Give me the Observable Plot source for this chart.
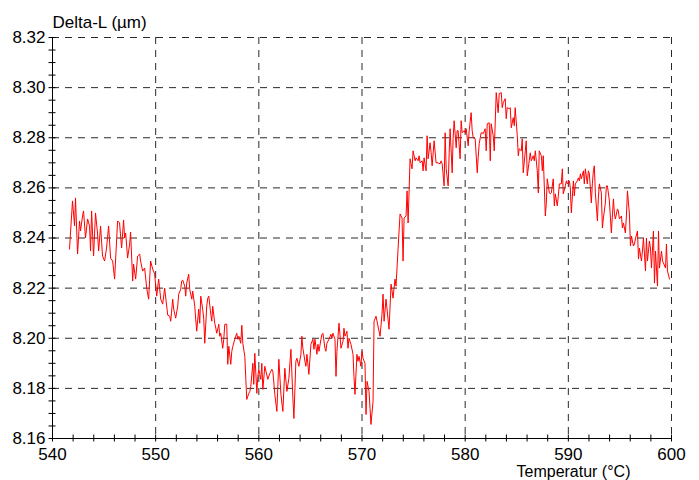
<!DOCTYPE html>
<html>
<head>
<meta charset="utf-8">
<script src="https://cdn.jsdelivr.net/npm/d3@7"></script>
<script src="https://cdn.jsdelivr.net/npm/@observablehq/plot@0.6"></script>
<style>
  html, body { margin: 0; padding: 0; background: #fff; }
  #chart svg { display: block; }
</style>
</head>
<body>
<div id="chart"></div>
<script>
const yTitle = "Delta-L (µm)";
const xTitle = "Temperatur (°C)";
const xTicks = [540, 550, 560, 570, 580, 590, 600];
const yTicks = [8.16, 8.18, 8.20, 8.22, 8.24, 8.26, 8.28, 8.30, 8.32];

const temperature = [
  541.65, 541.94, 542.14, 542.23, 542.43, 542.62, 542.72, 542.91, 543.01, 543.20,
  543.40, 543.59, 543.69, 543.79, 543.98, 544.17, 544.37, 544.47, 544.66, 544.85,
  545.05, 545.24, 545.44, 545.63, 545.83, 546.02, 546.31, 546.50, 546.60, 546.70,
  546.89, 546.99, 547.09, 547.28, 547.48, 547.57, 547.77, 547.86, 548.06, 548.25,
  548.45, 548.54, 548.74, 548.93, 549.13, 549.32, 549.51, 549.71, 549.90, 550.10,
  550.29, 550.49, 550.68, 550.87, 551.17, 551.36, 551.46, 551.65, 551.75, 551.94,
  552.14, 552.23, 552.43, 552.52, 552.62, 552.82, 552.91, 553.01, 553.20, 553.30,
  553.50, 553.59, 553.79, 553.88, 553.98, 554.17, 554.27, 554.37, 554.56, 554.66,
  554.76, 554.95, 555.05, 555.15, 555.34, 555.44, 555.53, 555.73, 555.83, 555.92,
  556.12, 556.21, 556.31, 556.50, 556.60, 556.70, 556.89, 556.99, 557.09, 557.28,
  557.38, 557.48, 557.67, 557.86, 557.96, 558.06, 558.25, 558.35, 558.45, 558.64,
  558.74, 558.83, 559.03, 559.13, 559.22, 559.42, 559.51, 559.61, 559.81, 559.90,
  560.00, 560.19, 560.29, 560.39, 560.58, 560.87, 561.07, 561.26, 561.36, 561.55,
  561.75, 561.94, 562.14, 562.33, 562.52, 562.72, 562.91, 563.11, 563.30, 563.40,
  563.59, 563.69, 563.88, 564.08, 564.17, 564.27, 564.47, 564.56, 564.66, 564.85,
  565.05, 565.24, 565.34, 565.44, 565.63, 565.73, 565.83, 566.02, 566.12, 566.21,
  566.41, 566.50, 566.60, 566.80, 566.99, 567.09, 567.18, 567.38, 567.48, 567.57,
  567.77, 567.86, 567.96, 568.16, 568.25, 568.35, 568.54, 568.64, 568.74, 568.93,
  569.13, 569.22, 569.32, 569.51, 569.61, 569.71, 569.90, 570.00, 570.10, 570.29,
  570.39, 570.49, 570.68, 570.78, 570.87, 571.07, 571.17, 571.36, 571.75, 571.94,
  572.04, 572.14, 572.33, 572.62, 572.82, 573.01, 573.20, 573.30, 573.50, 573.69,
  573.88, 573.98, 574.08, 574.27, 574.37, 574.47, 574.66, 574.85, 574.95, 575.15,
  575.24, 575.44, 575.53, 575.63, 575.83, 575.92, 576.02, 576.21, 576.31, 576.41,
  576.60, 576.70, 576.80, 576.99, 577.18, 577.38, 577.57, 577.67, 577.77, 577.96,
  578.06, 578.16, 578.35, 578.45, 578.54, 578.74, 578.83, 578.93, 579.13, 579.22,
  579.32, 579.51, 579.61, 579.71, 579.90, 580.00, 580.10, 580.29, 580.39, 580.58,
  580.68, 580.78, 580.97, 581.17, 581.26, 581.36, 581.55, 581.65, 581.75, 581.94,
  582.04, 582.14, 582.33, 582.43, 582.52, 582.72, 582.82, 583.01, 583.20, 583.30,
  583.50, 583.59, 583.69, 583.88, 583.98, 584.08, 584.27, 584.37, 584.47, 584.66,
  584.76, 584.85, 585.05, 585.15, 585.24, 585.44, 585.53, 585.63, 585.83, 585.92,
  586.02, 586.21, 586.31, 586.41, 586.60, 586.70, 586.80, 586.99, 587.09, 587.18,
  587.38, 587.48, 587.57, 587.77, 587.86, 587.96, 588.16, 588.25, 588.35, 588.54,
  588.64, 588.74, 588.93, 589.03, 589.13, 589.32, 589.42, 589.51, 589.71, 589.81,
  589.90, 590.10, 590.19, 590.29, 590.49, 590.58, 590.68, 590.87, 590.97, 591.07,
  591.17, 591.26, 591.46, 591.55, 591.65, 591.84, 591.94, 592.04, 592.23, 592.33,
  592.43, 592.52, 592.62, 592.82, 592.91, 593.01, 593.20, 593.30, 593.40, 593.59,
  593.69, 593.79, 593.98, 594.08, 594.17, 594.37, 594.47, 594.56, 594.76, 594.85,
  594.95, 595.15, 595.24, 595.34, 595.53, 595.63, 595.73, 595.92, 596.02, 596.12,
  596.31, 596.41, 596.50, 596.70, 596.80, 596.89, 597.09, 597.18, 597.28, 597.48,
  597.57, 597.67, 597.86, 597.96, 598.06, 598.25, 598.35, 598.45, 598.64, 598.74,
  598.83, 599.03, 599.13, 599.22, 599.42, 599.51, 599.61, 599.81
];

const deltaL = [
  8.2356, 8.2548, 8.2448, 8.2560, 8.2336, 8.2468, 8.2428, 8.2488, 8.2508, 8.2400,
  8.2476, 8.2448, 8.2348, 8.2508, 8.2328, 8.2500, 8.2416, 8.2348, 8.2448, 8.2328,
  8.2308, 8.2360, 8.2448, 8.2320, 8.2308, 8.2236, 8.2468, 8.2460, 8.2408, 8.2360,
  8.2472, 8.2400, 8.2420, 8.2320, 8.2376, 8.2424, 8.2228, 8.2296, 8.2236, 8.2328,
  8.2336, 8.2308, 8.2268, 8.2280, 8.2200, 8.2156, 8.2308, 8.2276, 8.2256, 8.2168,
  8.2236, 8.2156, 8.2136, 8.2200, 8.2092, 8.2088, 8.2068, 8.2156, 8.2116, 8.2080,
  8.2128, 8.2176, 8.2196, 8.2228, 8.2232, 8.2208, 8.2168, 8.2220, 8.2256, 8.2196,
  8.2156, 8.2188, 8.2128, 8.2076, 8.2028, 8.2116, 8.2060, 8.2168, 8.2116, 8.2076,
  8.1980, 8.2128, 8.2160, 8.2168, 8.2096, 8.2068, 8.2128, 8.2060, 8.2040, 8.2020,
  8.2056, 8.2008, 8.2020, 8.1960, 8.1996, 8.2056, 8.2056, 8.1896, 8.1968, 8.1896,
  8.1948, 8.1968, 8.1996, 8.2020, 8.1996, 8.2008, 8.1980, 8.2052, 8.1980, 8.1928,
  8.1836, 8.1756, 8.1780, 8.1788, 8.1808, 8.1900, 8.1816, 8.1940, 8.1780, 8.1848,
  8.1876, 8.1836, 8.1900, 8.1796, 8.1888, 8.1836, 8.1860, 8.1876, 8.1868, 8.1776,
  8.1708, 8.1916, 8.1776, 8.1708, 8.1880, 8.1788, 8.1840, 8.1956, 8.1760, 8.1680,
  8.1908, 8.1920, 8.1888, 8.1936, 8.2008, 8.1960, 8.1908, 8.1888, 8.1936, 8.1856,
  8.1976, 8.1996, 8.1956, 8.1996, 8.1936, 8.1976, 8.1948, 8.1996, 8.2016, 8.2020,
  8.1960, 8.1948, 8.1980, 8.1996, 8.2016, 8.2000, 8.2020, 8.1996, 8.1848, 8.1948,
  8.2060, 8.2016, 8.1960, 8.1988, 8.2040, 8.2008, 8.2028, 8.1960, 8.2000, 8.1976,
  8.1936, 8.1848, 8.1776, 8.1936, 8.1908, 8.1928, 8.1888, 8.1948, 8.1920, 8.1900,
  8.1696, 8.1828, 8.1788, 8.1720, 8.1656, 8.1748, 8.2068, 8.2088, 8.2008, 8.2096,
  8.2176, 8.2068, 8.2156, 8.2036, 8.2216, 8.2160, 8.2236, 8.2208, 8.2360, 8.2496,
  8.2480, 8.2308, 8.2480, 8.2488, 8.2588, 8.2460, 8.2716, 8.2676, 8.2748, 8.2708,
  8.2720, 8.2708, 8.2728, 8.2700, 8.2708, 8.2668, 8.2720, 8.2668, 8.2808, 8.2716,
  8.2780, 8.2740, 8.2688, 8.2788, 8.2700, 8.2700, 8.2696, 8.2708, 8.2696, 8.2608,
  8.2820, 8.2676, 8.2608, 8.2740, 8.2836, 8.2660, 8.2796, 8.2868, 8.2760, 8.2828,
  8.2828, 8.2716, 8.2868, 8.2820, 8.2828, 8.2820, 8.2836, 8.2768, 8.2828, 8.2900,
  8.2828, 8.2800, 8.2796, 8.2660, 8.2720, 8.2776, 8.2820, 8.2820, 8.2816, 8.2836,
  8.2748, 8.2856, 8.2860, 8.2708, 8.2856, 8.2808, 8.2748, 8.2980, 8.2900, 8.2976,
  8.2980, 8.2920, 8.2940, 8.2956, 8.2876, 8.2920, 8.2916, 8.2920, 8.2840, 8.2880,
  8.2848, 8.2920, 8.2808, 8.2728, 8.2756, 8.2748, 8.2796, 8.2660, 8.2748, 8.2788,
  8.2648, 8.2708, 8.2740, 8.2708, 8.2728, 8.2708, 8.2748, 8.2668, 8.2580, 8.2748,
  8.2728, 8.2668, 8.2728, 8.2488, 8.2536, 8.2636, 8.2580, 8.2576, 8.2580, 8.2636,
  8.2528, 8.2576, 8.2528, 8.2568, 8.2616, 8.2616, 8.2676, 8.2576, 8.2608, 8.2628,
  8.2616, 8.2628, 8.2600, 8.2500, 8.2628, 8.2568, 8.2616, 8.2628, 8.2640, 8.2628,
  8.2656, 8.2636, 8.2668, 8.2616, 8.2676, 8.2616, 8.2668, 8.2656, 8.2540, 8.2616,
  8.2668, 8.2688, 8.2580, 8.2468, 8.2560, 8.2616, 8.2580, 8.2440, 8.2480, 8.2540,
  8.2608, 8.2608, 8.2548, 8.2480, 8.2420, 8.2556, 8.2496, 8.2476, 8.2516, 8.2508,
  8.2476, 8.2488, 8.2440, 8.2460, 8.2420, 8.2488, 8.2588, 8.2496, 8.2368, 8.2408,
  8.2368, 8.2376, 8.2396, 8.2428, 8.2316, 8.2360, 8.2308, 8.2348, 8.2400, 8.2268,
  8.2400, 8.2308, 8.2388, 8.2360, 8.2280, 8.2428, 8.2220, 8.2348, 8.2208, 8.2428,
  8.2280, 8.2348, 8.2308, 8.2300, 8.2280, 8.2376, 8.2268, 8.2236
];

const data = temperature.map((t, i) => ({t, v: deltaL[i]}));

const font = "'Liberation Sans', Arial, Helvetica, sans-serif";
const gridColor = "#2a2a2a";
const dash = "7,6";

const chart = Plot.plot({
  width: 699,
  height: 480,
  marginLeft: 52,
  marginRight: 28,
  marginTop: 37,
  marginBottom: 42,
  style: {fontFamily: font, fontSize: "17px", background: "#fff", color: "#000"},
  x: {domain: [540, 600]},
  y: {domain: [8.16, 8.32]},
  marks: [
    Plot.gridX(xTicks.slice(1), {stroke: gridColor, strokeOpacity: 1, strokeDasharray: dash}),
    Plot.gridY(yTicks.slice(1), {stroke: gridColor, strokeOpacity: 1, strokeDasharray: dash}),
    Plot.line(data, {x: "t", y: "v", stroke: "#ff0000", strokeWidth: 1}),
    Plot.ruleX([540], {stroke: "#000"}),
    Plot.ruleY([8.16], {stroke: "#000"}),
    Plot.axisX({ticks: d3.range(540, 601, 2), tickSize: 7, dy: -3.5, text: null, label: null, stroke: "#000"}),
    Plot.axisY({ticks: d3.range(0, 33).map(i => 8.16 + i * 0.005), tickSize: 7, dx: 3.5, text: null, label: null, stroke: "#000"}),
    Plot.axisX({ticks: xTicks, tickSize: 0, tickPadding: 9, label: null, fontSize: 17, fill: "#000"}),
    Plot.axisY({ticks: yTicks, tickSize: 0, tickPadding: 7, tickFormat: d => d.toFixed(2), label: null, fontSize: 17, fill: "#000"}),
    Plot.text([yTitle], {frameAnchor: "top-left", textAnchor: "start", lineAnchor: "top", dy: -22, fontSize: 17, fill: "#000"}),
    Plot.text([xTitle], {frameAnchor: "bottom-left", textAnchor: "start", lineAnchor: "top", dx: 464, dy: 27, fontSize: 16, fill: "#000"})
  ]
});

document.getElementById("chart").appendChild(chart);
</script>
</body>
</html>
